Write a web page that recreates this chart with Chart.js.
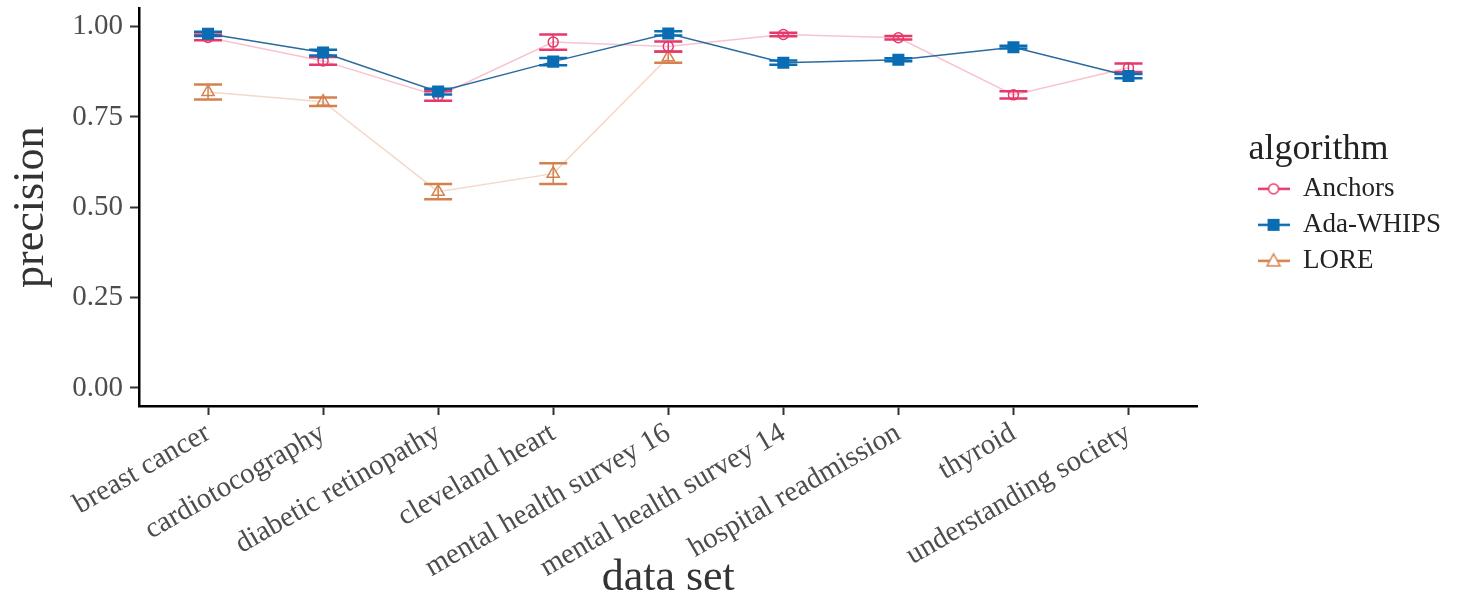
<!DOCTYPE html>
<html>
<head>
<meta charset="utf-8">
<script src="https://cdn.jsdelivr.net/npm/chart.js@4.4.0/dist/chart.umd.min.js"></script>
<style>
    html, body { margin: 0; padding: 0; background: #fff; }
</style>
</head>
<body>
<canvas id="precisionChart" width="1461" height="603"></canvas>
<script>
const dataSets = ['breast cancer', 'cardiotocography', 'diabetic retinopathy', 'cleveland heart',
    'mental health survey 16', 'mental health survey 14', 'hospital readmission', 'thyroid',
    'understanding society']
const yTicks = [0, 0.25, 0.5, 0.75, 1]

const anchorsPrecision = [0.970, 0.905, 0.808, 0.957, 0.945, 0.978, 0.969, 0.811, 0.886]
const anchorsError = [0.008, 0.011, 0.013, 0.021, 0.014, 0.005, 0.005, 0.010, 0.012]
const adaWhipsPrecision = [0.980, 0.928, 0.820, 0.903, 0.981, 0.900, 0.908, 0.943, 0.863]
const adaWhipsError = [0.006, 0.008, 0.008, 0.010, 0.006, 0.006, 0.004, 0.004, 0.006]
const lorePrecision = [0.819, 0.792, 0.543, 0.593, 0.915, null, null, null, null]
const loreError = [0.021, 0.012, 0.021, 0.029, 0.015, null, null, null, null]

const pink = '#e6396b'
const blue = '#0a6db3'
const orange = '#d4814d'
const serif = "'Liberation Serif', 'DejaVu Serif', serif"

const toPoints = (values) => values.map((v, i) => ({ x: i, y: v }))

// small canvas icons for the legend: line with the marker on top
const makeIcon = (color, marker) => {
    const c = document.createElement('canvas')
    c.width = 32
    c.height = 20
    const g = c.getContext('2d')
    g.strokeStyle = color
    g.fillStyle = color
    g.lineWidth = 2.5
    g.beginPath()
    g.moveTo(0, 10)
    g.lineTo(32, 10)
    g.stroke()
    g.lineWidth = 1.5
    g.beginPath()
    if (marker === 'circle') {
        g.fillStyle = '#fff'
        g.arc(16, 10, 5, 0, Math.PI * 2)
        g.fill()
        g.stroke()
    } else if (marker === 'rect') {
        g.fillRect(10, 4, 12, 12)
    } else {
        g.fillStyle = '#fff'
        g.moveTo(16, 3)
        g.lineTo(22.5, 15)
        g.lineTo(9.5, 15)
        g.closePath()
        g.fill()
        g.stroke()
    }
    return c
}
const legendIcons = [makeIcon(pink, 'circle'), makeIcon(blue, 'rect'), makeIcon(orange, 'triangle')]

const errorBarPlugin = {
    id: 'errorBars',
    afterDatasetDraw (chart, args) {
        const ds = chart.data.datasets[args.index]
        if (!ds.errors) {
            return
        }
        const yScale = chart.scales.y
        const ctx = chart.ctx
        ctx.save()
        ctx.strokeStyle = ds.errorColor
        args.meta.data.forEach((pt, i) => {
            const v = ds.data[i].y
            const e = ds.errors[i]
            if (v == null || e == null) {
                return
            }
            const lo = yScale.getPixelForValue(v - e)
            const hi = yScale.getPixelForValue(v + e)
            ctx.lineWidth = 1.5
            ctx.beginPath()
            ctx.moveTo(pt.x, lo)
            ctx.lineTo(pt.x, hi)
            ctx.stroke()
            ctx.lineWidth = 2.5
            ctx.beginPath()
            ctx.moveTo(pt.x - 14, lo)
            ctx.lineTo(pt.x + 14, lo)
            ctx.moveTo(pt.x - 14, hi)
            ctx.lineTo(pt.x + 14, hi)
            ctx.stroke()
        })
        ctx.restore()
    },
}

new Chart(document.getElementById('precisionChart'), {
    type: 'line',
    data: {
        datasets: [
            {
                label: 'Anchors',
                data: toPoints(anchorsPrecision),
                errors: anchorsError,
                errorColor: pink,
                borderColor: 'rgba(230, 57, 107, 0.3)',
                borderWidth: 1.5,
                pointStyle: 'circle',
                pointRadius: 5,
                pointBorderWidth: 1.5,
                pointBorderColor: pink,
                pointBackgroundColor: 'rgba(0,0,0,0)',
                order: 1,
            }, {
                label: 'Ada-WHIPS',
                data: toPoints(adaWhipsPrecision),
                errors: adaWhipsError,
                errorColor: blue,
                borderColor: 'rgba(20, 90, 150, 0.9)',
                borderWidth: 1.5,
                pointStyle: 'rect',
                pointRadius: 8.5,
                pointBorderWidth: 0,
                pointBackgroundColor: blue,
                order: 0,
            }, {
                label: 'LORE',
                data: toPoints(lorePrecision),
                errors: loreError,
                errorColor: orange,
                borderColor: 'rgba(212, 129, 77, 0.3)',
                borderWidth: 1.5,
                pointStyle: 'triangle',
                pointRadius: 7,
                pointBorderWidth: 1.5,
                pointBorderColor: orange,
                pointBackgroundColor: 'rgba(0,0,0,0)',
                order: 2,
            }],
    },
    options: {
        responsive: false,
        animation: false,
        spanGaps: false,
        layout: {
            padding: { top: 7, right: 10, bottom: 0, left: 0 },
        },
        plugins: {
            tooltip: { enabled: false },
            legend: {
                position: 'right',
                fullSize: false,
                align: 'center',
                title: {
                    display: true,
                    text: 'algorithm',
                    position: 'start',
                    color: '#222',
                    font: { family: serif, size: 36 },
                    padding: { top: 0, bottom: -8 },
                },
                labels: {
                    usePointStyle: true,
                    pointStyleWidth: 32,
                    padding: 9,
                    color: '#222',
                    font: { family: serif, size: 27 },
                    sort: (a, b) => a.datasetIndex - b.datasetIndex,
                    generateLabels: function (chart) {
                        const items = Chart.defaults.plugins.legend.labels.generateLabels(chart)
                        return items.map(it => Object.assign(it, { pointStyle: legendIcons[it.datasetIndex] }))
                    },
                },
            },
        },
        scales: {
            x: {
                type: 'linear',
                min: -0.6,
                max: 8.6,
                afterBuildTicks: (scale) => {
                    scale.ticks = dataSets.map((_, i) => ({ value: i }))
                },
                afterFit: (scale) => {
                    scale.height = 197
                },
                grid: {
                    display: true,
                    drawOnChartArea: false,
                    tickLength: 9,
                    tickColor: '#333',
                    tickWidth: 2,
                },
                border: { display: true, color: '#000', width: 2.5 },
                ticks: {
                    autoSkip: false,
                    minRotation: 30,
                    maxRotation: 30,
                    padding: 1,
                    color: '#4d4d4d',
                    font: { family: serif, size: 29 },
                    callback: (value) => dataSets[value],
                },
                title: {
                    display: true,
                    text: 'data set',
                    color: '#333',
                    font: { family: serif, size: 44 },
                    padding: { top: 0, bottom: -2 },
                },
            },
            y: {
                min: -0.05,
                max: 1.05,
                afterBuildTicks: (scale) => {
                    scale.ticks = yTicks.map(v => ({ value: v }))
                },
                afterFit: (scale) => {
                    scale.width = 139
                    scale.paddingTop = 0
                    scale.paddingBottom = 0
                },
                grid: {
                    display: true,
                    drawOnChartArea: false,
                    tickLength: 9,
                    tickColor: '#333',
                    tickWidth: 2,
                },
                border: { display: true, color: '#000', width: 2.5 },
                ticks: {
                    padding: 7,
                    color: '#4d4d4d',
                    font: { family: serif, size: 29 },
                    callback: (value) => value.toFixed(2),
                },
                title: {
                    display: true,
                    text: 'precision',
                    color: '#333',
                    font: { family: serif, size: 44 },
                    padding: { top: 5, bottom: 0 },
                },
            },
            gap: {
                type: 'linear',
                position: 'right',
                display: true,
                grid: { display: false },
                border: { display: false },
                ticks: { display: false },
                afterFit: (scale) => {
                    scale.width = 51
                },
            },
        },
    },
    plugins: [errorBarPlugin],
})
</script>
</body>
</html>
